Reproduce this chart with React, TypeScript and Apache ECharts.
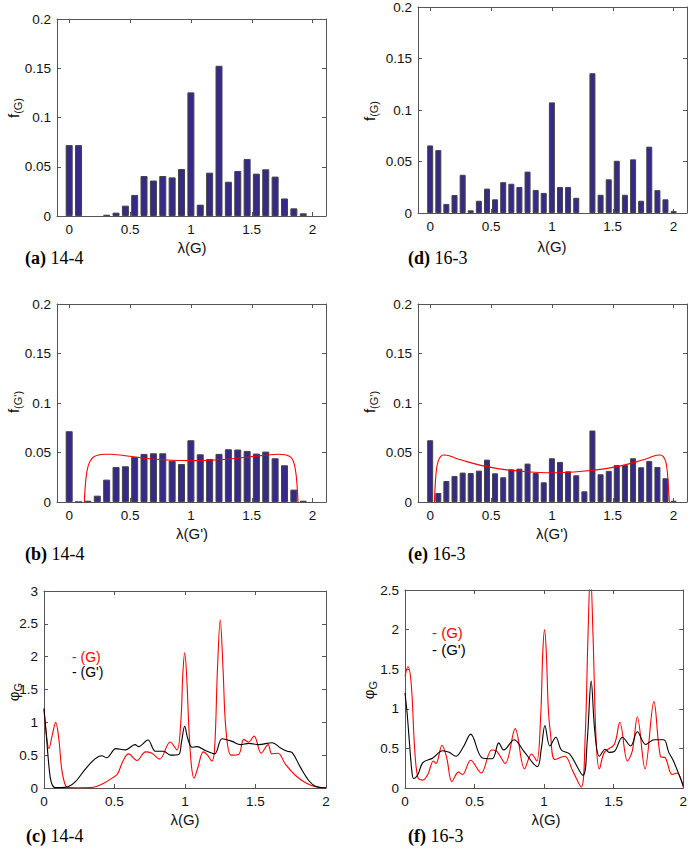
import React, { useEffect, useRef } from "react";
import * as echarts from "echarts";

// ---------- data ----------
const binsA = [0, 0.077, 0.154, 0.231, 0.308, 0.385, 0.462, 0.538, 0.615, 0.692, 0.769, 0.846, 0.923, 1.0, 1.077, 1.154, 1.231, 1.308, 1.385, 1.462, 1.538, 1.615, 1.692, 1.769, 1.846, 1.923, 2.0];
const binsD = [0, 0.067, 0.133, 0.2, 0.267, 0.333, 0.4, 0.467, 0.533, 0.6, 0.667, 0.733, 0.8, 0.867, 0.933, 1.0, 1.067, 1.133, 1.2, 1.267, 1.333, 1.4, 1.467, 1.533, 1.6, 1.667, 1.733, 1.8, 1.867, 1.933, 2.0];

const histA = [0.072, 0.072, null, null, 0.0013, 0.0034, 0.0105, 0.0214, 0.0406, 0.036, 0.0406, 0.0392, 0.0477, 0.1255, 0.0115, 0.044, 0.1525, 0.0348, 0.0457, 0.0579, 0.043, 0.0474, 0.040, 0.0178, 0.0078, 0.0027, null];
const histB = [0.0715, 0, 0.0013, 0.0064, 0.0226, 0.0354, 0.0361, 0.0455, 0.0486, 0.0492, 0.0492, 0.0418, 0.0384, 0.0624, 0.0482, 0.0435, 0.0486, 0.0533, 0.053, 0.0516, 0.0489, 0.0509, 0.0442, 0.0371, 0.0125, 0.0013, null];
const histD = [0.0656, 0.0611, 0.0088, 0.0175, 0.0371, 0.0026, 0.0119, 0.0237, 0.0133, 0.0299, 0.0284, 0.0253, 0.0402, 0.0224, 0.0195, 0.1074, 0.0253, 0.0253, 0.0148, null, 0.1357, 0.0177, 0.0327, 0.0507, 0.0177, 0.0521, 0.0119, 0.0644, 0.0222, 0.0133, 0.002];
const histE = [0.0624, 0.0091, 0.0212, 0.0263, 0.0297, 0.0293, 0.0317, 0.0428, 0.029, 0.025, 0.033, 0.0337, 0.0388, 0.0293, 0.0199, 0.0442, 0.0405, 0.031, 0.027, 0.0108, 0.0722, 0.028, 0.0314, 0.0374, 0.0374, 0.0442, 0.0351, 0.0415, 0.0354, 0.024, 0.0013];

const fitBx = [0.125, 0.13, 0.14, 0.155, 0.175, 0.2, 0.24, 0.29, 0.35, 0.45, 0.6, 0.8, 1.0, 1.2, 1.4, 1.55, 1.65, 1.72, 1.77, 1.805, 1.83, 1.85, 1.865, 1.875, 1.88];
const fitBy = [0, 0.012, 0.026, 0.036, 0.042, 0.0455, 0.0475, 0.0483, 0.0482, 0.047, 0.0445, 0.0425, 0.0418, 0.0424, 0.0445, 0.0465, 0.0477, 0.0482, 0.0478, 0.0465, 0.044, 0.038, 0.027, 0.012, 0];
const fitEx = [0.035, 0.04, 0.05, 0.065, 0.085, 0.11, 0.14, 0.2, 0.3, 0.4, 0.5, 0.6, 0.75, 0.9, 1.0, 1.1, 1.25, 1.4, 1.5, 1.6, 1.7, 1.8, 1.86, 1.89, 1.915, 1.935, 1.948, 1.958, 1.965];
const fitEy = [0, 0.014, 0.031, 0.041, 0.0458, 0.0474, 0.0472, 0.0447, 0.0408, 0.0375, 0.035, 0.033, 0.031, 0.0298, 0.0295, 0.0298, 0.031, 0.033, 0.035, 0.0375, 0.0408, 0.0447, 0.0472, 0.0474, 0.0458, 0.041, 0.031, 0.014, 0];

const specCRedX = [0, 0.015, 0.035, 0.06, 0.083, 0.105, 0.125, 0.15, 0.17, 0.25, 0.33, 0.38, 0.43, 0.48, 0.52, 0.56, 0.6, 0.66, 0.72, 0.765, 0.82, 0.895, 0.943, 0.97, 0.985, 0.998, 1.012, 1.028, 1.045, 1.064, 1.09, 1.13, 1.16, 1.19, 1.21, 1.23, 1.25, 1.27, 1.29, 1.327, 1.38, 1.417, 1.45, 1.49, 1.54, 1.59, 1.615, 1.66, 1.713, 1.784, 1.855, 1.926, 2.0];
const specCRedY = [1.2, 0.85, 0.6, 0.82, 1.0, 0.75, 0.3, 0.05, 0.01, 0.003, 0.005, 0.03, 0.08, 0.147, 0.21, 0.41, 0.52, 0.42, 0.55, 0.53, 0.44, 0.7, 0.58, 1.0, 1.75, 2.06, 1.7, 0.9, 0.35, 0.15, 0.3, 0.55, 0.5, 0.41, 0.6, 1.8, 2.56, 1.8, 0.9, 0.5, 0.51, 0.74, 0.7, 0.79, 0.53, 0.66, 0.52, 0.53, 0.36, 0.19, 0.08, 0.02, 0.005];
const specCBlackX = [0, 0.015, 0.03, 0.045, 0.06, 0.08, 0.15, 0.22, 0.29, 0.36, 0.41, 0.445, 0.51, 0.576, 0.646, 0.67, 0.737, 0.79, 0.848, 0.896, 0.955, 0.975, 0.998, 1.02, 1.05, 1.085, 1.145, 1.21, 1.263, 1.334, 1.393, 1.453, 1.523, 1.618, 1.678, 1.725, 1.76, 1.82, 1.879, 1.926, 2.0];
const specCBlackY = [1.21, 0.85, 0.45, 0.15, 0.04, 0.005, 0.01, 0.09, 0.28, 0.44, 0.49, 0.46, 0.6, 0.58, 0.66, 0.63, 0.73, 0.56, 0.56, 0.5, 0.51, 0.7, 0.94, 0.75, 0.62, 0.63, 0.57, 0.52, 0.75, 0.71, 0.66, 0.68, 0.66, 0.69, 0.61, 0.56, 0.54, 0.31, 0.11, 0.025, 0];

const specFRedX = [0, 0.021, 0.045, 0.069, 0.093, 0.128, 0.164, 0.204, 0.223, 0.266, 0.3, 0.337, 0.384, 0.413, 0.472, 0.548, 0.622, 0.655, 0.72, 0.792, 0.859, 0.91, 0.947, 0.975, 0.99, 1.003, 1.016, 1.03, 1.046, 1.077, 1.148, 1.207, 1.267, 1.295, 1.315, 1.333, 1.352, 1.374, 1.397, 1.433, 1.504, 1.544, 1.599, 1.634, 1.67, 1.725, 1.789, 1.836, 1.872, 1.92, 1.955, 2.0];
const specFRedY = [1.41, 1.53, 1.31, 0.51, 0.13, 0.1, 0.17, 0.34, 0.31, 0.54, 0.38, 0.08, 0.2, 0.17, 0.35, 0.19, 0.48, 0.47, 0.31, 0.75, 0.24, 0.43, 0.34, 0.9, 1.7, 2.0, 1.7, 1.0, 0.68, 0.36, 0.4, 0.21, 0.01, 0.64, 1.9, 2.75, 1.9, 0.59, 0.24, 0.45, 0.55, 0.83, 0.34, 0.47, 0.9, 0.24, 1.09, 0.4, 0.38, 0.17, 0.19, 0.01];
const specFBlackX = [0, 0.015, 0.033, 0.05, 0.062, 0.093, 0.128, 0.2, 0.27, 0.318, 0.365, 0.42, 0.472, 0.555, 0.627, 0.674, 0.71, 0.785, 0.852, 0.951, 0.98, 1.006, 1.041, 1.084, 1.124, 1.183, 1.279, 1.31, 1.338, 1.365, 1.397, 1.44, 1.468, 1.504, 1.563, 1.622, 1.67, 1.73, 1.789, 1.86, 1.896, 1.93, 2.0];
const specFBlackY = [1.2, 0.95, 0.55, 0.2, 0.12, 0.17, 0.32, 0.38, 0.47, 0.45, 0.4, 0.52, 0.68, 0.38, 0.37, 0.57, 0.48, 0.61, 0.47, 0.27, 0.5, 0.79, 0.53, 0.64, 0.48, 0.43, 0.16, 0.6, 1.35, 0.7, 0.4, 0.49, 0.45, 0.46, 0.64, 0.53, 0.71, 0.55, 0.61, 0.61, 0.45, 0.34, 0.03];

const xTicks = [0, 0.5, 1, 1.5, 2];

// ---------- styling ----------
const SANS = "Liberation Sans, Arial, sans-serif";
const SERIF = "Liberation Serif, Times New Roman, serif";
const AXIS = "#555";
const BAR = "#352a87";

const grids = [
  { left: 57, top: 19, width: 269, height: 197 }, // a
  { left: 418, top: 7, width: 269, height: 206 }, // d
  { left: 57, top: 304, width: 269, height: 198 }, // b
  { left: 418, top: 304, width: 269, height: 198 }, // e
  { left: 44, top: 591, width: 282, height: 197 }, // c
  { left: 405, top: 590, width: 281, height: 198 }, // f
];

const pairs = (xs: number[], ys: (number | null)[]) =>
  xs.map((x, i) => [x, ys[i] === null ? "-" : ys[i]]);

function xAxes(g: number, min: number, max: number) {
  const base = (pos: string) => ({
    type: "value",
    gridIndex: g,
    min,
    max,
    position: pos,
    axisLine: { show: true, onZero: false, lineStyle: { color: AXIS, width: 1 } },
    axisTick: { show: true, inside: true, length: 4, customValues: xTicks, lineStyle: { color: AXIS } },
    axisLabel: {
      show: pos === "bottom",
      customValues: xTicks,
      fontSize: 13.5,
      fontFamily: SANS,
      color: "#111",
      margin: 6,
    },
    splitLine: { show: false },
  });
  return [base("bottom"), base("top")];
}

function yAxes(g: number, max: number, interval: number) {
  const base = (pos: string) => ({
    type: "value",
    gridIndex: g,
    min: 0,
    max,
    interval,
    position: pos,
    axisLine: { show: true, onZero: false, lineStyle: { color: AXIS, width: 1 } },
    axisTick: { show: true, inside: true, length: 4, lineStyle: { color: AXIS } },
    axisLabel: {
      show: pos === "left",
      fontSize: 13.5,
      fontFamily: SANS,
      color: "#111",
      margin: 6,
    },
    splitLine: { show: false },
  });
  return [base("left"), base("right")];
}

function barSeries(g: number, bins: number[], h: (number | null)[], w: number) {
  return {
    type: "bar",
    xAxisIndex: 2 * g,
    yAxisIndex: 2 * g,
    data: pairs(bins, h),
    barWidth: w,
    itemStyle: { color: BAR, borderColor: "#444", borderWidth: 1 },
    silent: true,
  };
}

function lineSeries(g: number, xs: number[], ys: number[], color: string, smooth: number) {
  return {
    type: "line",
    xAxisIndex: 2 * g,
    yAxisIndex: 2 * g,
    data: pairs(xs, ys),
    symbol: "none",
    showSymbol: false,
    smooth,
    clip: true,
    lineStyle: { color, width: 1.1 },
    silent: true,
    z: 5,
  };
}

function caption(x: number, y: number, tag: string, name: string) {
  return {
    type: "text",
    x,
    y,
    style: {
      text: `{b|(${tag})} {n|${name}}`,
      fontSize: 18,
      fontFamily: SERIF,
      verticalAlign: "middle",
      align: "left",
      rich: {
        b: { fontFamily: SERIF, fontWeight: "bold", fontSize: 18, fill: "#000" },
        n: { fontFamily: SERIF, fontSize: 18, fill: "#000" },
      },
    },
  };
}

function xLabel(x: number, y: number, text: string) {
  return {
    type: "text",
    x,
    y,
    style: { text, fontSize: 15, fontFamily: SANS, fill: "#111", align: "center", verticalAlign: "middle" },
  };
}

function yLabel(x: number, y: number, main: string, sub: string) {
  return {
    type: "text",
    x,
    y,
    rotation: Math.PI / 2,
    style: {
      text: `{m|${main}}{s|${sub}}`,
      fontSize: 15,
      fontFamily: SANS,
      align: "center",
      verticalAlign: "middle",
      rich: {
        m: { fontSize: 15, fontFamily: SANS, fill: "#111" },
        s: { fontSize: 11, fontFamily: SANS, fill: "#111", padding: [9, 0, 0, 0] },
      },
    },
  };
}

function legendBlock(x: number, y: number, size: number, lineHeight: number) {
  return {
    type: "text",
    x,
    y,
    style: {
      text: "{r|- (G)}\n{k|- (G')}",
      fontSize: size,
      fontFamily: SANS,
      align: "left",
      verticalAlign: "middle",
      rich: {
        r: { fontSize: size, fontFamily: SANS, fill: "#ff0000", lineHeight },
        k: { fontSize: size, fontFamily: SANS, fill: "#000000", lineHeight },
      },
    },
  };
}

export default function App() {
  const ref = useRef<HTMLDivElement>(null);
  useEffect(() => {
    if (!ref.current) return;
    const chart = echarts.init(ref.current, undefined, { renderer: "svg" });
    const option = {
      animation: false,
      backgroundColor: "#fff",
      grid: grids.map((g) => ({ ...g, show: false })),
      xAxis: [
        ...xAxes(0, -0.1, 2.11),
        ...xAxes(1, -0.1, 2.11),
        ...xAxes(2, -0.1, 2.11),
        ...xAxes(3, -0.1, 2.11),
        ...xAxes(4, 0, 2),
        ...xAxes(5, 0, 2),
      ],
      yAxis: [
        ...yAxes(0, 0.2, 0.05),
        ...yAxes(1, 0.2, 0.05),
        ...yAxes(2, 0.2, 0.05),
        ...yAxes(3, 0.2, 0.05),
        ...yAxes(4, 3, 0.5),
        ...yAxes(5, 2.5, 0.5),
      ],
      series: [
        barSeries(0, binsA, histA, 7),
        barSeries(1, binsD, histD, 6),
        barSeries(2, binsA, histB, 7),
        lineSeries(2, fitBx, fitBy, "#ff0000", 0.3),
        barSeries(3, binsD, histE, 6),
        lineSeries(3, fitEx, fitEy, "#ff0000", 0.3),
        lineSeries(4, specCRedX, specCRedY, "#ff0000", 0.35),
        lineSeries(4, specCBlackX, specCBlackY, "#000000", 0.35),
        lineSeries(5, specFRedX, specFRedY, "#ff0000", 0.35),
        lineSeries(5, specFBlackX, specFBlackY, "#000000", 0.35),
      ],
      graphic: [
        caption(25, 258, "a", "14-4"),
        caption(408, 258, "d", "16-3"),
        caption(25, 554, "b", "14-4"),
        caption(408, 554, "e", "16-3"),
        caption(26, 836, "c", "14-4"),
        caption(408, 836, "f", "16-3"),
        xLabel(192, 247, "λ(G)"),
        xLabel(552, 246, "λ(G)"),
        xLabel(192, 533, "λ(G')"),
        xLabel(552, 533, "λ(G')"),
        xLabel(185, 819, "λ(G)"),
        xLabel(546, 819, "λ(G)"),
        yLabel(13, 108, "f", "(G)"),
        yLabel(369, 111, "f", "(G)"),
        yLabel(13, 402, "f", "(G')"),
        yLabel(369, 402, "f", "(G')"),
        yLabel(13, 692, "φ", "G"),
        yLabel(368, 690, "φ", "G"),
        legendBlock(72, 664.5, 14, 14.5),
        legendBlock(432, 640.5, 15, 17),
      ],
    };
    chart.setOption(option as any);
    return () => chart.dispose();
  }, []);
  return (
    <div
      ref={ref}
      style={{ position: "absolute", left: 0, top: 0, width: 690, height: 849, background: "#fff" }}
    />
  );
}
